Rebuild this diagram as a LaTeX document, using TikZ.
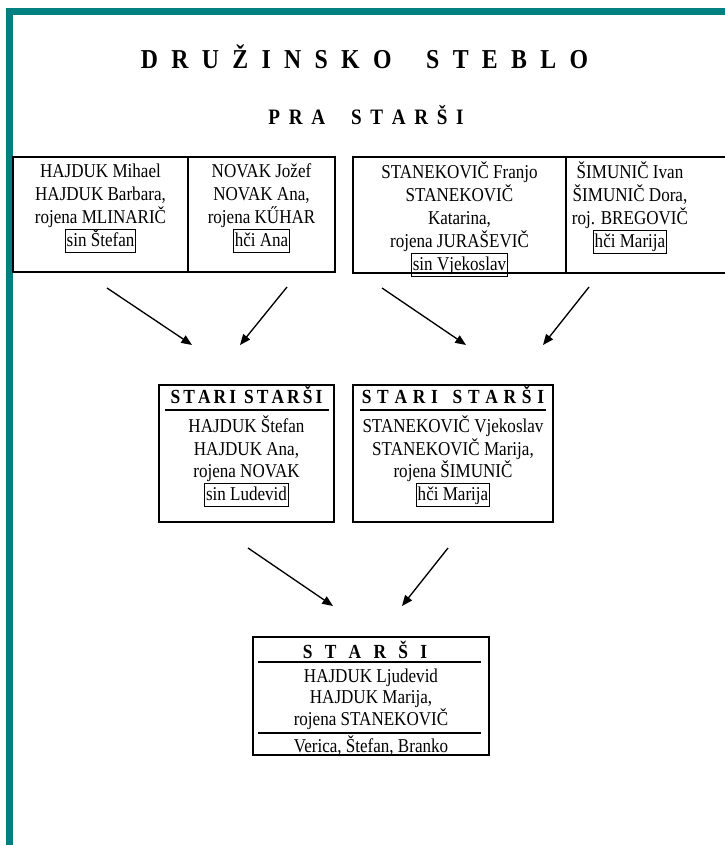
\documentclass[tikz,border=0pt]{standalone}
\usepackage{fontspec}
\setmainfont[FakeStretch=0.87]{Liberation Serif}
\usetikzlibrary{arrows.meta}
\definecolor{tealframe}{RGB}{0,128,128}
\newcommand\bx[1]{{\setlength{\fboxsep}{0pt}\setlength{\fboxrule}{0.6pt}\fbox{\rule[-4pt]{0pt}{16.8pt}\hspace{0.8pt}#1\hspace{0.8pt}}}}
\begin{document}
\begin{tikzpicture}[x=0.75pt,y=-0.75pt,
  cellbox/.style={draw, line width=0.8pt, inner sep=0pt},
  txt/.style={anchor=north, inner sep=0pt, align=center,
    font=\fontsize{14.7}{17.25}\selectfont,
    execute at begin node={\rule{0pt}{13.5pt}}},
  txtb/.style={anchor=north, inner sep=0pt, align=center,
    font=\fontsize{14.7}{17}\selectfont,
    execute at begin node={\rule{0pt}{13.5pt}}},
  head/.style={anchor=base, inner sep=0pt, font=\bfseries\fontsize{15}{18}\selectfont},
  arr/.style={line width=1pt, -{Triangle[length=8pt,width=6.5pt]}},
  rulel/.style={line width=0.8pt}]
\useasboundingbox (0,0) rectangle (724,845);
% teal frame
\fill[tealframe] (6,8) rectangle (13,850);
\fill[tealframe] (6,8) rectangle (730,15);
% titles
\node[anchor=base, inner sep=0pt, font=\bfseries\fontsize{20.5}{24}\selectfont] (title) at (364.5,69)
  {D\hspace{10pt}R\hspace{10pt}U\hspace{10pt}Ž\hspace{10pt}I\hspace{10pt}N\hspace{10pt}S\hspace{10pt}K\hspace{10pt}O\hspace{26pt}S\hspace{10pt}T\hspace{10pt}E\hspace{10pt}B\hspace{10pt}L\hspace{10pt}O};
\node[anchor=base, inner sep=0pt, font=\bfseries\fontsize{16.5}{20}\selectfont] (subtitle) at (366,125)
  {P\hspace{6.5pt}R\hspace{6.5pt}A\hspace{19.5pt}S\hspace{6.5pt}T\hspace{6.5pt}A\hspace{6.5pt}R\hspace{6.5pt}Š\hspace{6.5pt}I};
% top row cells
\node[cellbox, minimum width=131.25pt, minimum height=86.25pt] (c1) at (100.5,214.5) {};
\node[cellbox, minimum width=110.25pt, minimum height=86.25pt] (c2) at (261.5,214.5) {};
\node[cellbox, minimum width=159.75pt, minimum height=87pt] (c3) at (459.5,215) {};
\node[cellbox, minimum width=130.5pt, minimum height=87pt] (c4) at (653,215) {};
\node[txt] (t1) at (100.5,163.5) {HAJDUK Mihael\\HAJDUK Barbara,\\rojena MLINARIČ\\\bx{sin Štefan}};
\node[txt] (t2) at (261.5,163.5) {NOVAK Jožef\\NOVAK Ana,\\rojena KŰHAR\\\bx{hči Ana}};
\node[txt] (t3) at (459.5,161.5) {STANEKOVIČ Franjo\\STANEKOVIČ\\Katarina,\\rojena JURAŠEVIČ\\\bx{sin Vjekoslav}};
\node[txt] (t4) at (630,161.5) {ŠIMUNIČ Ivan\\ŠIMUNIČ Dora,\\roj. BREGOVIČ\\\bx{hči Marija}};
% arrows row 1
\coordinate (a1s) at (107,288); \coordinate (a1e) at (192,345);
\coordinate (a2s) at (287,287); \coordinate (a2e) at (240,345);
\coordinate (a3s) at (382,288); \coordinate (a3e) at (466,345);
\coordinate (a4s) at (589,287); \coordinate (a4e) at (543,345);
\draw[arr] (a1s) -- (a1e);
\draw[arr] (a2s) -- (a2e);
\draw[arr] (a3s) -- (a3e);
\draw[arr] (a4s) -- (a4e);
% middle boxes
\node[cellbox, minimum width=131.25pt, minimum height=102.75pt] (bA) at (246.5,453.5) {};
\node[cellbox, minimum width=150pt, minimum height=102.75pt] (bB) at (453,453.5) {};
\node[head] (hA) at (246.5,403) {S\hspace{2.3pt}T\hspace{2.3pt}A\hspace{2.3pt}R\hspace{2.3pt}I\hspace{6pt}S\hspace{2.3pt}T\hspace{2.3pt}A\hspace{2.3pt}R\hspace{2.3pt}Š\hspace{2.3pt}I};
\node[head] (hB) at (453,403) {S\hspace{4.3pt}T\hspace{4.3pt}A\hspace{4.3pt}R\hspace{4.3pt}I\hspace{11pt}S\hspace{4.3pt}T\hspace{4.3pt}A\hspace{4.3pt}R\hspace{4.3pt}Š\hspace{4.3pt}I};
\draw[rulel] (165,410) -- (329,410);
\draw[rulel] (360,410) -- (546,410);
\node[txtb] (tA) at (246.5,415.5) {HAJDUK Štefan\\HAJDUK Ana,\\rojena NOVAK\\\bx{sin Ludevid}};
\node[txtb] (tB) at (453,415.5) {STANEKOVIČ Vjekoslav\\STANEKOVIČ Marija,\\rojena ŠIMUNIČ\\\bx{hči Marija}};
% arrows row 2
\coordinate (b1s) at (248,548); \coordinate (b1e) at (333,606);
\coordinate (b2s) at (448,548); \coordinate (b2e) at (402,606);
\draw[arr] (b1s) -- (b1e);
\draw[arr] (b2s) -- (b2e);
% bottom box
\node[cellbox, minimum width=177pt, minimum height=88.5pt] (bC) at (371,696) {};
\node[head] (hC) at (365,658) {S\hspace{9.2pt}T\hspace{9.2pt}A\hspace{9.2pt}R\hspace{9.2pt}Š\hspace{9.2pt}I};
\draw[rulel] (258,662) -- (481,662);
\node[txt, font=\fontsize{14.7}{16.1}\selectfont] (tC) at (371,668.5) {HAJDUK Ljudevid\\HAJDUK Marija,\\rojena STANEKOVIČ};
\draw[rulel] (258,733) -- (481,733);
\node[anchor=base, inner sep=0pt, font=\fontsize{14.7}{16.5}\selectfont] (kids) at (371,752) {Verica, Štefan, Branko};
\end{tikzpicture}
\end{document}
